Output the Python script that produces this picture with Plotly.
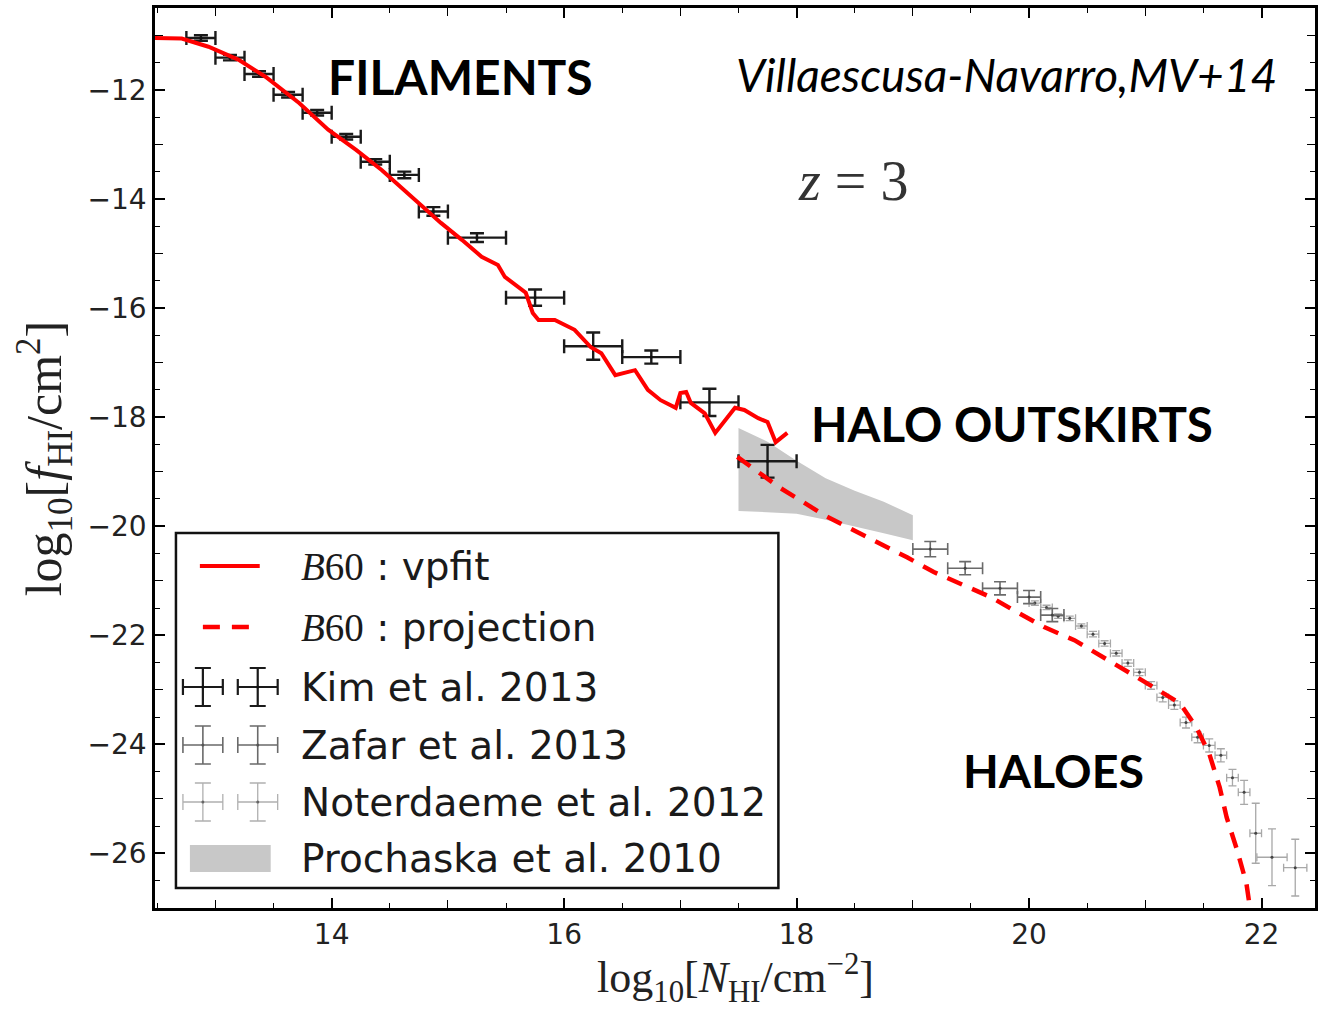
import plotly.graph_objects as go

# ---------------- data ----------------
# B60 : vpfit (solid red)
vp_x = [12.48, 12.71, 12.94, 13.20, 13.43, 13.72, 13.97, 14.21, 14.43, 14.72, 14.94, 15.12,
        15.29, 15.43, 15.49, 15.67, 15.73, 15.78, 15.92, 16.09, 16.23, 16.32, 16.44, 16.61,
        16.72, 16.83, 16.96, 17.00, 17.05, 17.09, 17.21, 17.30, 17.38, 17.47, 17.55, 17.67,
        17.75, 17.82, 17.92]
vp_y = [-11.05, -11.06, -11.21, -11.45, -11.76, -12.24, -12.73, -13.10, -13.47, -14.02, -14.44, -14.75,
        -15.06, -15.21, -15.43, -15.72, -16.09, -16.22, -16.22, -16.40, -16.72, -16.83, -17.23, -17.14,
        -17.50, -17.69, -17.83, -17.56, -17.54, -17.74, -17.93, -18.29, -18.06, -17.83, -17.87, -18.02,
        -18.09, -18.46, -18.29]

# B60 : projection (dashed red)
pj_x = [17.49, 17.69, 17.86, 18.24, 18.44, 18.72, 18.95, 19.18, 19.41, 19.67, 19.90, 20.13,
        20.39, 20.61, 20.84, 21.07, 21.30, 21.44, 21.55, 21.64, 21.70, 21.79, 21.87, 21.90]
pj_y = [-18.73, -19.03, -19.30, -19.80, -20.02, -20.31, -20.57, -20.84, -21.05, -21.30, -21.58, -21.85,
        -22.09, -22.37, -22.64, -22.95, -23.25, -23.69, -24.17, -24.79, -25.34, -25.94, -26.55, -26.99]

# Kim et al. 2013
kim_x = [12.875, 13.125, 13.375, 13.625, 13.875, 14.125, 14.375, 14.625, 14.875,
         15.25, 15.75, 16.25, 16.75, 17.25, 17.75]
kim_y = [-11.05, -11.41, -11.71, -12.09, -12.42, -12.86, -13.32, -13.56, -14.23,
         -14.71, -15.81, -16.70, -16.90, -17.73, -18.81]
kim_xerr = [0.125] * 9 + [0.25] * 6
kim_yerr = [0.05, 0.05, 0.05, 0.05, 0.05, 0.05, 0.05, 0.06, 0.08,
            0.08, 0.15, 0.25, 0.12, 0.25, 0.30]

# Zafar et al. 2013
zaf_x = [19.15, 19.45, 19.75, 20.00, 20.20]
zaf_y = [-20.42, -20.77, -21.14, -21.30, -21.63]
zaf_xerr = [0.15, 0.15, 0.15, 0.10, 0.10]
zaf_yerr = [0.14, 0.12, 0.12, 0.12, 0.12]

# Noterdaeme et al. 2012
not_x = [20.05, 20.15, 20.25, 20.35, 20.45, 20.55, 20.65, 20.75, 20.85, 20.95, 21.05,
         21.15, 21.25, 21.35, 21.45, 21.55, 21.65, 21.75, 21.85, 21.95, 22.09, 22.29]
not_y = [-21.41, -21.49, -21.65, -21.69, -21.83, -21.98, -22.15, -22.33, -22.51, -22.68, -22.92,
         -23.14, -23.28, -23.60, -23.87, -24.02, -24.20, -24.61, -24.88, -25.63, -26.07, -26.26]
not_xerr = [0.05] * 20 + [0.13, 0.10]
not_yerr = [0.04, 0.04, 0.04, 0.04, 0.04, 0.05, 0.05, 0.05, 0.06, 0.06, 0.07,
            0.08, 0.08, 0.1, 0.1, 0.12, 0.12, 0.15, 0.22, 0.55, 0.52, 0.52]

# Prochaska et al. 2010 (band)
pro_x = [17.5, 17.75, 18.0, 18.25, 18.5, 18.75, 19.0]
pro_top = [-18.20, -18.45, -18.80, -19.12, -19.35, -19.55, -19.80]
pro_bot = [-19.72, -19.74, -19.77, -19.88, -20.00, -20.13, -20.26]

# axis ticks
x_range = [12.48, 22.46]
y_range = [-27, -10.5]
x_odd_ticks = [13, 15, 17, 19, 21]
y_odd_ticks = [-27, -25, -23, -21, -19, -17, -15, -13, -11]

legend_labels = [
    "<span style=\"font-family:'Liberation Serif'\"><i>B</i>60</span> : vpfit",
    "<span style=\"font-family:'Liberation Serif'\"><i>B</i>60</span> : projection",
    "Kim et al. 2013",
    "Zafar et al. 2013",
    "Noterdaeme et al. 2012",
    "Prochaska et al. 2010",
]

# ---------------- layout constants ----------------
W, H = 1318, 1010
L, R, T, B = 155, 0, 8, 102
PW, PH = W - L - R, H - T - B


def pxx(x):
    return (x - L) / PW


def pxy(y):
    return (H - B - y) / PH


RED = "#ff0000"
fig = go.Figure()

# Prochaska band
fig.add_trace(go.Scatter(
    x=pro_x + pro_x[::-1], y=pro_top + pro_bot[::-1],
    fill="toself", fillcolor="#c8c8c8", line=dict(width=0), mode="lines",
    hoverinfo="skip", showlegend=False))

# Noterdaeme
fig.add_trace(go.Scatter(
    x=not_x, y=not_y, mode="markers",
    marker=dict(size=3, color="#444"),
    error_x=dict(type="data", array=not_xerr, color="#a8a8a8", thickness=1.3, width=4),
    error_y=dict(type="data", array=not_yerr, color="#a8a8a8", thickness=1.3, width=4),
    showlegend=False))

# Zafar
fig.add_trace(go.Scatter(
    x=zaf_x, y=zaf_y, mode="markers",
    marker=dict(size=3, color="#444"),
    error_x=dict(type="data", array=zaf_xerr, color="#6a6a6a", thickness=1.6, width=6),
    error_y=dict(type="data", array=zaf_yerr, color="#6a6a6a", thickness=1.6, width=6),
    showlegend=False))

# Kim
fig.add_trace(go.Scatter(
    x=kim_x, y=kim_y, mode="markers",
    marker=dict(size=3, color="#111"),
    error_x=dict(type="data", array=kim_xerr, color="#1a1a1a", thickness=2.4, width=7),
    error_y=dict(type="data", array=kim_yerr, color="#1a1a1a", thickness=2.4, width=7),
    showlegend=False))

# projection dashed
fig.add_trace(go.Scatter(
    x=pj_x, y=pj_y, mode="lines",
    line=dict(color=RED, width=4.5, dash="16px,11px"), showlegend=False))

# vpfit solid
fig.add_trace(go.Scatter(
    x=vp_x, y=vp_y, mode="lines",
    line=dict(color=RED, width=4), showlegend=False))

# ---------------- custom legend (overlay pixel axes) ----------------
row_y = [566, 627, 687, 745, 802, 858]
fig.add_trace(go.Scatter(x=[200, 260], y=[row_y[0]] * 2, mode="lines",
                         line=dict(color=RED, width=4), xaxis="x2", yaxis="y2", showlegend=False))
fig.add_trace(go.Scatter(x=[203, 250], y=[row_y[1]] * 2, mode="lines",
                         line=dict(color=RED, width=4.5, dash="17px,12px"),
                         xaxis="x2", yaxis="y2", showlegend=False))
for ry, col, th, mcol in [(row_y[2], "#1a1a1a", 2.2, "#111"),
                          (row_y[3], "#6a6a6a", 1.6, "#555"),
                          (row_y[4], "#b0b0b0", 1.3, "#666")]:
    fig.add_trace(go.Scatter(
        x=[203, 258], y=[ry, ry], mode="markers", marker=dict(size=3, color=mcol),
        error_x=dict(type="data", array=[20, 20], color=col, thickness=th, width=8),
        error_y=dict(type="data", array=[19, 19], color=col, thickness=th, width=8),
        xaxis="x2", yaxis="y2", showlegend=False))

shapes = [
    dict(type="rect", xref="x2", yref="y2", x0=176, x1=780, y0=533, y1=888,
         line=dict(color="#111", width=2.5), fillcolor="white", layer="below"),
    dict(type="rect", xref="x2", yref="y2", x0=190, x1=271, y0=845, y1=872,
         line=dict(width=0), fillcolor="#c8c8c8", layer="below"),
]

annotations = []
for lab, ry in zip(legend_labels, row_y):
    annotations.append(dict(text=lab, xref="paper", yref="paper", x=pxx(299), y=pxy(ry),
                            xanchor="left", yanchor="middle", showarrow=False,
                            font=dict(family="DejaVu Sans", size=39, color="#1a1a1a")))


def big(text, cx, cy, size=50, family="Lato", color="black"):
    annotations.append(dict(text=text, xref="paper", yref="paper", x=pxx(cx), y=pxy(cy),
                            xanchor="center", yanchor="middle", showarrow=False,
                            font=dict(family=family, size=size, color=color)))


big("<b>FILAMENTS</b>", 461, 76, size=48)
big("<b>HALO OUTSKIRTS</b>", 1014, 423, size=47.5)
big("<b>HALOES</b>", 1056, 770, size=46.5)
big("<i>Villaescusa-Navarro,MV+14</i>", 1009, 75, size=46)
big("<i>z</i> = 3", 855, 181, size=56, family="Liberation Serif", color="#333")

# axis titles
annotations.append(dict(text="log<sub>10</sub>[<i>N</i><sub>HI</sub>/cm<sup>\u22122</sup>]",
                        xref="paper", yref="paper", x=pxx(737), y=pxy(978),
                        xanchor="center", yanchor="middle", showarrow=False,
                        font=dict(family="Liberation Serif", size=44, color="#222")))
annotations.append(dict(text="log<sub>10</sub>[<i>f</i><sub>HI</sub>/cm<sup>2</sup>]",
                        xref="paper", yref="paper", x=pxx(44), y=pxy(458),
                        xanchor="center", yanchor="middle", showarrow=False, textangle=-90,
                        font=dict(family="Liberation Serif", size=50, color="#222")))

axis_common = dict(showline=True, linecolor="black", linewidth=2.5, mirror="allticks",
                   ticks="inside", ticklen=10, tickwidth=1.6, tickcolor="black",
                   showgrid=False, zeroline=False,
                   tickmode="linear", tick0=0, dtick=2,
                   minor=dict(ticks="inside", ticklen=5, tickwidth=1, dtick=0.5, tick0=0,
                              tickcolor="black", showgrid=False),
                   tickfont=dict(family="DejaVu Sans", size=28, color="#222"))

odd_common = dict(ticks="inside", ticklen=8, tickwidth=1.4, tickcolor="black",
                  showticklabels=False, showgrid=False, zeroline=False,
                  showline=False, mirror="ticks", fixedrange=True, tickmode="array")

fig.update_layout(
    width=W, height=H,
    margin=dict(l=L, r=R, t=T, b=B),
    paper_bgcolor="white", plot_bgcolor="white",
    showlegend=False,
    xaxis=dict(range=x_range, **axis_common),
    yaxis=dict(range=y_range, **axis_common),
    xaxis2=dict(overlaying="x", anchor="y2", range=[L, W - R], visible=False, fixedrange=True),
    yaxis2=dict(overlaying="y", anchor="x2", range=[H - B, T], visible=False, fixedrange=True),
    xaxis3=dict(overlaying="x", anchor="y", side="bottom", range=x_range,
                tickvals=x_odd_ticks, **odd_common),
    yaxis3=dict(overlaying="y", anchor="x", side="left", range=y_range,
                tickvals=y_odd_ticks, **odd_common),
    shapes=shapes,
    annotations=annotations,
)

# invisible anchor trace so the odd-tick axes are drawn
fig.add_trace(go.Scatter(x=[x_range[0]], y=[y_range[0]], mode="markers",
                         marker=dict(size=1, opacity=0), xaxis="x3", yaxis="y3",
                         showlegend=False, hoverinfo="skip"))

fig.write_html("out.html")
